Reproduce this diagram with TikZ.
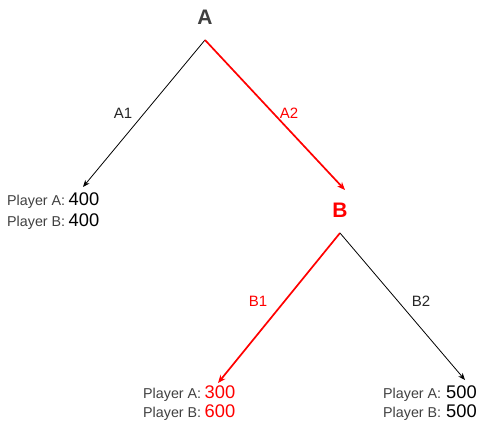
\documentclass[tikz,border=0pt]{standalone}
\usepackage{fontspec}
\setmainfont{Liberation Sans}
\usetikzlibrary{arrows.meta}
\definecolor{txtgray}{HTML}{404040}
\definecolor{pred}{HTML}{FF0000}
\tikzset{
  player/.style={font=\fontsize{21}{21}\selectfont\bfseries, inner sep=0pt},
  branch/.style={font=\fontsize{15}{15}\selectfont, inner sep=0pt},
  leaf/.style={anchor=base west, inner sep=0pt, text=txtgray},
  blackedge/.style={draw=black, line width=0.8pt, -{Stealth[length=7pt,width=5.5pt]}},
  rededge/.style={draw=pred, line width=1.7pt, -{Stealth[length=8pt,width=6.5pt]}},
}
\newcommand{\lbl}[1]{{\fontsize{14.3}{14.3}\selectfont #1}}
\newcommand{\val}[2]{{\fontsize{18.3}{18.3}\selectfont\color{#1}#2}}
\begin{document}
\begin{tikzpicture}[x=1pt,y=-1pt]
\useasboundingbox (0,0) rectangle (478,425);
% decision nodes
\node[player, text=txtgray] (A) at (205,17) {A};
\node[player, text=pred] (B) at (340,210) {B};
% leaves
\node[leaf] (L1a) at (7,205) {\lbl{Player A:}\hspace{3.5pt}\val{black}{400}};
\node[leaf] (L1b) at (7,226) {\lbl{Player B:}\hspace{3.5pt}\val{black}{400}};
\node[leaf] (L2a) at (143,398) {\lbl{Player A:}\hspace{3.5pt}\val{pred}{300}};
\node[leaf] (L2b) at (143,417) {\lbl{Player B:}\hspace{3.5pt}\val{pred}{600}};
\node[leaf] (L3a) at (383,398) {\lbl{Player A:}\hspace{5pt}\val{black}{500}};
\node[leaf] (L3b) at (383,417) {\lbl{Player B:}\hspace{5pt}\val{black}{500}};
% arrow ends
\coordinate (a0) at (205,40);
\coordinate (b0) at (340,233);
\coordinate (t1) at (83,187);
\coordinate (tB) at (345,190);
\coordinate (t2) at (218,383);
\coordinate (t3) at (465,380);
% edges
\draw[blackedge] (a0) -- (t1);
\draw[rededge] (a0) -- (tB);
\draw[rededge] (b0) -- (t2);
\draw[blackedge] (b0) -- (t3);
% edge labels
\node[branch, text=black!85] (lA1) at (123,113) {A1};
\node[branch, text=pred] (lA2) at (289,113) {A2};
\node[branch, text=pred] (lB1) at (258,301) {B1};
\node[branch, text=black!85] (lB2) at (421,301) {B2};
\end{tikzpicture}
\end{document}
